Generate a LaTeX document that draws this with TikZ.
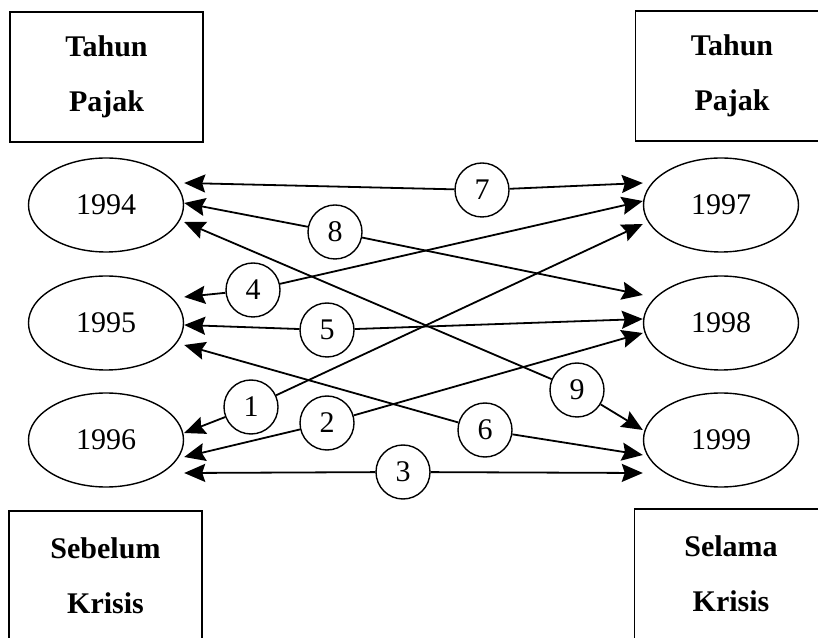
\documentclass[tikz,border=0pt]{standalone}
\usepackage{fontspec}
\setmainfont{Liberation Serif}
\usetikzlibrary{arrows.meta,shapes.geometric}

\begin{document}
\begin{tikzpicture}[x=1pt, y=1pt, >={Stealth[length=21pt,width=18pt,inset=3pt]},
		every node/.style={font=\fontsize{30}{55}\selectfont},
		tahun/.style={draw, ellipse, line width=1.4pt, minimum width=155pt, minimum height=94pt, inner sep=0pt},
		kotak/.style={draw, rectangle, line width=1.4pt, minimum width=193pt, minimum height=130pt, align=center, font=\fontsize{30}{55}\selectfont\bfseries},
		nomor/.style={draw, circle, fill=white, line width=1.4pt, minimum size=54pt, inner sep=0pt},
		panah/.style={->, line width=1.8pt}]
	\useasboundingbox (0,0) rectangle (818,637);
	
	% 1. 四个标题框
	\node[kotak] (pajakkiri) at (106.5,560) {Tahun\\Pajak};
	\node[kotak] (pajakkanan) at (732,561) {Tahun\\Pajak};
	\node[kotak] (sebelum) at (105.5,61) {Sebelum\\Krisis};
	\node[kotak] (selama) at (731,63) {Selama\\Krisis};
	
	% 2. 年份椭圆
	\node[tahun] (y1994) at (106,432) {1994};
	\node[tahun] (y1995) at (106,314) {1995};
	\node[tahun] (y1996) at (106,197) {1996};
	\node[tahun] (y1997) at (721,432) {1997};
	\node[tahun] (y1998) at (721,314) {1998};
	\node[tahun] (y1999) at (721,197) {1999};
	
	% 3. 编号圆圈
	\node[nomor] (n1) at (251,230) {1};
	\node[nomor] (n2) at (327,214) {2};
	\node[nomor] (n3) at (403,165) {3};
	\node[nomor] (n4) at (253,347) {4};
	\node[nomor] (n5) at (327,307) {5};
	\node[nomor] (n6) at (485,207) {6};
	\node[nomor] (n7) at (482,447) {7};
	\node[nomor] (n8) at (335,405) {8};
	\node[nomor] (n9) at (577,247) {9};
	
	% 4. 双向箭头 (圆圈 -> 左端, 圆圈 -> 右端)
	\draw[panah] (n7) -- ([yshift=22pt]y1994.east);
	\draw[panah] (n7) -- ([yshift=22pt]y1997.west);
	\draw[panah] (n8) -- ([yshift=2pt]y1994.east);
	\draw[panah] (n8) -- ([yshift=28pt]y1998.west);
	\draw[panah] (n9) -- ([yshift=-17pt]y1994.east);
	\draw[panah] (n9) -- ([yshift=10pt]y1999.west);
	\draw[panah] (n4) -- ([yshift=26pt]y1995.east);
	\draw[panah] (n4) -- ([yshift=4pt]y1997.west);
	\draw[panah] (n5) -- ([yshift=-2pt]y1995.east);
	\draw[panah] (n5) -- ([yshift=4pt]y1998.west);
	\draw[panah] (n6) -- ([yshift=-22pt]y1995.east);
	\draw[panah] (n6) -- ([yshift=-15pt]y1999.west);
	\draw[panah] (n1) -- ([yshift=7pt]y1996.east);
	\draw[panah] (n1) -- ([yshift=-19pt]y1997.west);
	\draw[panah] (n2) -- ([yshift=-17pt]y1996.east);
	\draw[panah] (n2) -- ([yshift=-10pt]y1998.west);
	\draw[panah] (n3) -- ([yshift=-33pt]y1996.east);
	\draw[panah] (n3) -- ([yshift=-33pt]y1999.west);
\end{tikzpicture}
\end{document}
